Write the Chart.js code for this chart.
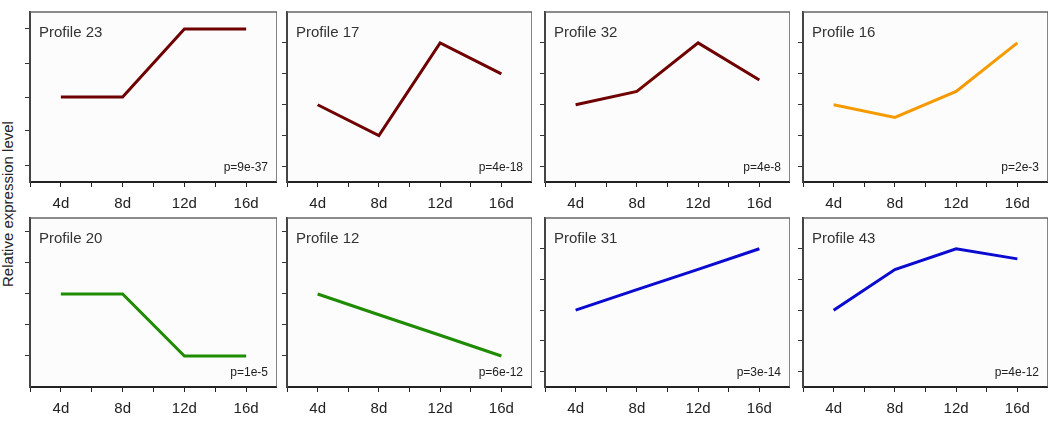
<!DOCTYPE html>
<html>
<head>
<meta charset="utf-8">
<script src="https://cdn.jsdelivr.net/npm/chart.js@4.4.1/dist/chart.umd.min.js"></script>
<style>
  html, body { margin: 0; padding: 0; background: #fff; }
  #wrap { position: relative; width: 1050px; height: 426px; overflow: hidden; }
  .panel { position: absolute; }
  #ylabel {
    position: absolute; left: -92px; top: 195px; width: 200px; height: 18px;
    text-align: center; font: 15px 'Liberation Sans', Arial, sans-serif; color: #222;
    transform: rotate(-90deg); line-height: 18px;
  }
</style>
</head>
<body>
<div id="wrap">
  <div id="ylabel">Relative expression level</div>
</div>
<script>
// ============ STEM expression profiles (8 small panels) ============
const DAYS = [4, 8, 12, 16];
const X_TICKS = [2, 4, 6, 8, 10, 12, 14, 16, 18];
const Y_TICKS = [1, 2, 3, 4, 5];

const TITLES = ['Profile 23', 'Profile 17', 'Profile 32', 'Profile 16',
                'Profile 20', 'Profile 12', 'Profile 31', 'Profile 43'];
const P_VALUES = ['p=9e-37', 'p=4e-18', 'p=4e-8', 'p=2e-3',
                  'p=1e-5', 'p=6e-12', 'p=3e-14', 'p=4e-12'];

const profile23 = [3, 3, 5, 5];
const profile17 = [3, 2, 5, 4];
const profile32 = [3, 3.43, 5, 3.8];
const profile16 = [3, 2.59, 3.43, 5];
const profile20 = [3, 3, 1, 1];
const profile12 = [3, 2.33, 1.67, 1];
const profile31 = [3, 3.67, 4.33, 5];
const profile43 = [3, 4.32, 5, 4.67];
const SERIES = [profile23, profile17, profile32, profile16, profile20, profile12, profile31, profile43];

const Y_MIN = [0.5, 0.5, 0.5, 0.5, 0, 0, 0.5, 0.5];
const Y_MAX = [5.5, 6, 6, 6, 5.45, 5.45, 6, 6];

const COLORS = ['#6e0000', '#6e0000', '#6e0000', '#f59a00',
                '#1f8b00', '#1f8b00', '#0a0ad0', '#0a0ad0'];

// panel frame (plot area) positions on the page
const COL_LEFT = [30, 287, 545, 803];
const COL_RIGHT = [275, 530, 788, 1046];
const ROW_TOP = [12, 218];
const ROW_BOTTOM = [182, 387];

const FONT = "'Liberation Sans', Arial, sans-serif";

// background, top/right frame, title and p-value inside the plot area
const panelDecor = {
    id: 'panelDecor',
    beforeDraw(chart) {
        const a = chart.chartArea, ctx = chart.ctx;
        ctx.save();
        ctx.fillStyle = '#fcfcfc';
        ctx.fillRect(a.left, a.top, a.right - a.left, a.bottom - a.top);
        ctx.restore();
    },
    afterDraw(chart, args, opts) {
        const a = chart.chartArea, ctx = chart.ctx;
        ctx.save();
        ctx.strokeStyle = '#666';
        ctx.lineWidth = 1.6;
        ctx.beginPath();
        ctx.moveTo(a.left, a.top);
        ctx.lineTo(a.right, a.top);
        ctx.lineTo(a.right, a.bottom);
        ctx.stroke();
        ctx.fillStyle = '#333';
        ctx.font = '15px ' + FONT;
        ctx.textAlign = 'left';
        ctx.textBaseline = 'alphabetic';
        ctx.fillText(opts.title, a.left + 9, a.top + 25);
        ctx.fillStyle = '#222';
        ctx.font = '12px ' + FONT;
        ctx.textAlign = 'right';
        ctx.fillText(opts.p, a.right - 9, a.bottom - 11);
        ctx.restore();
    }
};

function makePanel(i) {
    const col = i % 4, row = Math.floor(i / 4);
    const L = COL_LEFT[col], R = COL_RIGHT[col], T = ROW_TOP[row], B = ROW_BOTTOM[row];
    const div = document.createElement('div');
    div.className = 'panel';
    div.style.left = (L - 10) + 'px';
    div.style.top = (T - 4) + 'px';
    const canvas = document.createElement('canvas');
    canvas.width = R - L + 12;
    canvas.height = B - T + 4 + 34;
    div.appendChild(canvas);
    document.getElementById('wrap').appendChild(div);

    new Chart(canvas, {
        type: 'line',
        data: {
            datasets: [{
                data: DAYS.map((d, k) => ({ x: d, y: SERIES[i][k] })),
                borderColor: COLORS[i],
                borderWidth: 3,
                pointRadius: 0,
                tension: 0,
                fill: false
            }]
        },
        options: {
            responsive: false,
            animation: false,
            layout: { padding: { left: 4, top: 4, right: 0, bottom: 0 } },
            plugins: {
                legend: { display: false },
                tooltip: { enabled: false },
                panelDecor: { title: TITLES[i], p: P_VALUES[i] }
            },
            scales: {
                x: {
                    type: 'linear',
                    min: 2,
                    max: 18,
                    afterBuildTicks: s => { s.ticks = X_TICKS.map(v => ({ value: v })); },
                    afterFit: s => { s.height = 34; s.paddingRight = 0; },
                    ticks: {
                        autoSkip: false,
                        maxRotation: 0,
                        padding: 8,
                        color: '#222',
                        font: { family: FONT, size: 15 },
                        callback: v => (v % 4 === 0 && v >= 4 && v <= 16) ? v + 'd' : ''
                    },
                    grid: { drawOnChartArea: false, tickLength: 5, color: '#222', lineWidth: 1 },
                    border: { display: true, color: '#222', width: 2 }
                },
                y: {
                    min: Y_MIN[i],
                    max: Y_MAX[i],
                    afterBuildTicks: s => { s.ticks = Y_TICKS.map(v => ({ value: v })); },
                    afterFit: s => { s.width = 6; },
                    ticks: { display: false },
                    grid: { drawOnChartArea: false, tickLength: 5, color: '#333', lineWidth: 1 },
                    border: { display: true, color: '#444', width: 2 }
                }
            }
        },
        plugins: [panelDecor]
    });
}

document.addEventListener('DOMContentLoaded', () => {
    for (let i = 0; i < 8; i++) makePanel(i);
});
</script>
</body>
</html>
